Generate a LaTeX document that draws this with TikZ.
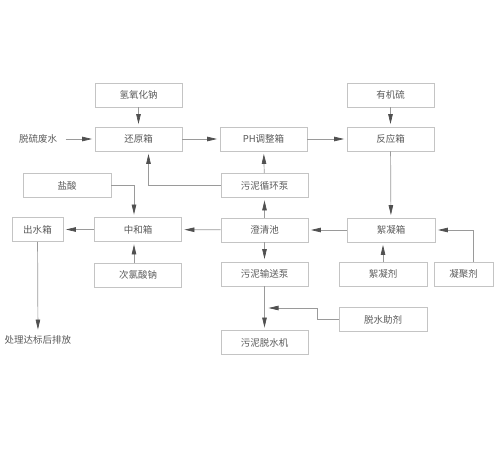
\documentclass[tikz,border=0pt]{standalone}
\usepackage{fontspec}
\setmainfont{Noto Sans CJK SC}
\usetikzlibrary{arrows.meta}
\definecolor{boxline}{HTML}{C4C4C4}
\definecolor{flowline}{HTML}{9A9A9A}
\definecolor{tipcol}{HTML}{505050}
\definecolor{txtcol}{HTML}{5A5A5A}
\tikzstyle{unit}=[
        draw=boxline,
        line width=0.8pt,
        minimum width=87pt,
        minimum height=24pt,
        inner sep=0pt,
        text=txtcol,
        font=\fontsize{9.5}{11}\selectfont
]
\tikzstyle{label}=[
        text=txtcol,
        font=\fontsize{9.5}{11}\selectfont
]
\tikzstyle{flow}=[
        draw=flowline,
        line width=0.7pt,
        -{Triangle[length=10pt,width=4.5pt,color=tipcol]},
        shorten >=2.5pt
]

\begin{document}
\begin{tikzpicture}[x=1pt,y=-1pt]
                    \useasboundingbox (0,0) rectangle (500,463);

                    \node[unit] (naoh) at (138.5,95) {氢氧化钠};
                    \node[unit] (huanyuan) at (138.5,139) {还原箱};
                    \node[unit] (ph) at (263.5,139) {PH调整箱};
                    \node[unit] (youji) at (390.5,95) {有机硫};
                    \node[unit] (fanying) at (390.5,139) {反应箱};
                    \node[unit] (xunhuan) at (264.5,185.5) {污泥循环泵};
                    \node[unit, minimum width=88pt] (yansuan) at (67,185.5) {盐酸};
                    \node[unit] (zhonghe) at (138,229.5) {中和箱};
                    \node[unit, minimum width=51pt] (chushui) at (37.5,229.5) {出水箱};
                    \node[unit] (cilv) at (138,275) {次氯酸钠};
                    \node[unit] (chengqing) at (264.5,230) {澄清池};
                    \node[unit, minimum width=88pt] (xuning) at (391,230) {絮凝箱};
                    \node[unit, minimum width=88pt] (xuningji) at (383,274) {絮凝剂};
                    \node[unit, minimum width=59pt] (ningju) at (463.5,274) {凝聚剂};
                    \node[unit] (shusong) at (264.5,274) {污泥输送泵};
                    \node[unit, minimum width=88pt] (zhuji) at (383,319.5) {脱水助剂};
                    \node[unit] (tuoshuiji) at (264.5,342.5) {污泥脱水机};

                    \node[label] (feed) at (38,139) {脱硫废水};
                    \node[label] (discharge) at (38,340) {处理达标后排放};
                    \coordinate (join) at (264.5,308);

                    % main line
                    \draw[flow, shorten <=5pt] (feed.east) -- (huanyuan.west);
                    \draw[flow] (naoh) -- (huanyuan);
                    \draw[flow] (huanyuan) -- (ph);
                    \draw[flow] (ph) -- (fanying);
                    \draw[flow] (youji) -- (fanying);
                    \draw[flow] (fanying) -- (xuning);
                    \draw[flow] (xuningji.north) -- (xuningji.north |- xuning.south);
                    \draw[flow] ([xshift=9.5pt]ningju.north) |- (xuning.east);
                    \draw[flow] (xuning) -- (chengqing);
                    \draw[flow] (chengqing) -- (zhonghe);
                    \draw[flow] (zhonghe) -- (chushui);
                    \draw[flow] (chushui) -- (discharge);
                    \draw[flow] (yansuan.east) -| ([xshift=-4pt]zhonghe.north);
                    \draw[flow] ([xshift=-4pt]cilv.north) -- ([xshift=-4pt]zhonghe.south);

                    % sludge
                    \draw[flow] (chengqing) -- (xunhuan);
                    \draw[flow] (xunhuan) -- (ph);
                    \draw[flow] (xunhuan.west) -| ([xshift=10pt]huanyuan.south);
                    \draw[flow] (chengqing) -- (shusong);
                    \draw[flow] (shusong) -- (tuoshuiji);
                    \draw[flow, shorten >=0pt] (zhuji.west) -- ++(-21,0) |- ([xshift=4pt]join);
                \end{tikzpicture}
\end{document}
